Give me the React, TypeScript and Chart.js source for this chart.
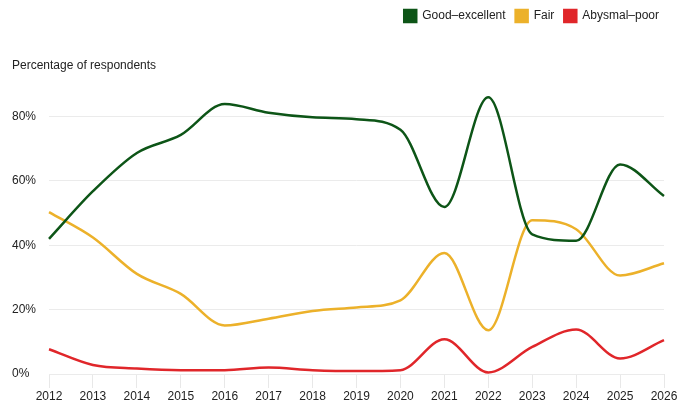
import React, { useEffect, useRef } from "react";
import { Chart, registerables } from "chart.js";

Chart.register(...registerables);

const years = ["2012","2013","2014","2015","2016","2017","2018","2019","2020","2021","2022","2023","2024","2025","2026"];
const goodExcellent = [42.0, 56.8, 68.7, 74.3, 83.9, 81.2, 79.8, 79.2, 75.9, 51.9, 86.0, 43.4, 41.4, 65.1, 55.3];
const fair = [50.3, 42.4, 31.1, 24.9, 15.1, 17.2, 19.6, 20.7, 22.9, 37.6, 13.6, 47.8, 45.0, 30.6, 34.4];
const abysmalPoor = [7.7, 2.8, 1.7, 1.2, 1.2, 2.0, 1.2, 0.9, 1.2, 10.8, 0.5, 8.4, 13.8, 4.8, 10.5];

const FONT = "Helvetica, Arial, 'Liberation Sans', sans-serif";

const legendShift = {
  id: "legendShift",
  afterLayout(chart: any) {
    const lg = chart.legend;
    if (lg) {
      lg.left += 5;
      lg.right += 5;
      if (lg.legendHitBoxes) lg.legendHitBoxes.forEach((b: any) => (b.left += 5));
    }
  },
};

export default function App() {
  const ref = useRef<HTMLCanvasElement | null>(null);
  useEffect(() => {
    document.body.style.margin = "0";
    const ctx = ref.current;
    if (!ctx) return;
    const mk = (label: string, data: number[], color: string) => ({
      label,
      data,
      borderColor: color,
      backgroundColor: color,
      borderWidth: 2.5,
      pointRadius: 0,
      cubicInterpolationMode: "monotone" as const,
      fill: false,
    });
    const chart = new Chart(ctx, {
      type: "line",
      data: {
        labels: years,
        datasets: [
          mk("Good–excellent", goodExcellent, "#0d5517"),
          mk("Fair", fair, "#ecb12a"),
          mk("Abysmal–poor", abysmalPoor, "#e0262a"),
        ],
      },
      plugins: [legendShift],
      options: {
        animation: false,
        responsive: false,
        maintainAspectRatio: false,
        layout: { padding: { left: 12, right: 24, top: 0, bottom: 0 } },
        plugins: {
          legend: {
            position: "top",
            align: "end",
            weight: 3000,
            labels: {
              boxWidth: 12,
              boxHeight: 12,
              padding: 10,
              color: "#222",
              font: { family: FONT, size: 12 },
            },
          } as any,
          title: {
            display: true,
            text: "Percentage of respondents",
            align: "start",
            color: "#222",
            font: { family: FONT, size: 12, weight: "normal" },
            padding: { top: 26, bottom: 12 },
          },
          tooltip: { enabled: false },
        },
        scales: {
          x: {
            afterFit: (scale: any) => {
              scale.height = 26;
            },
            grid: { display: true, drawOnChartArea: false, drawTicks: true, tickLength: 14, color: "#e8e8e8" },
            border: { display: false },
            ticks: { color: "#222", font: { family: FONT, size: 12 }, maxRotation: 0, autoSkip: false, padding: 1 },
          },
          y: {
            min: 0,
            max: 90,
            afterBuildTicks: (scale: any) => {
              scale.ticks = scale.ticks.filter((t: any) => t.value % 20 === 0);
            },
            grid: { color: "#ebebeb", drawTicks: false },
            border: { display: false },
            ticks: {
              stepSize: 20,
              crossAlign: "far",
              padding: 6.5,
              color: "#222",
              font: { family: FONT, size: 12 },
              callback: (v: any) => v + "%",
            },
          },
        },
      },
    });
    return () => chart.destroy();
  }, []);
  return <canvas ref={ref} width={688} height={400} style={{ display: "block" }} />;
}
